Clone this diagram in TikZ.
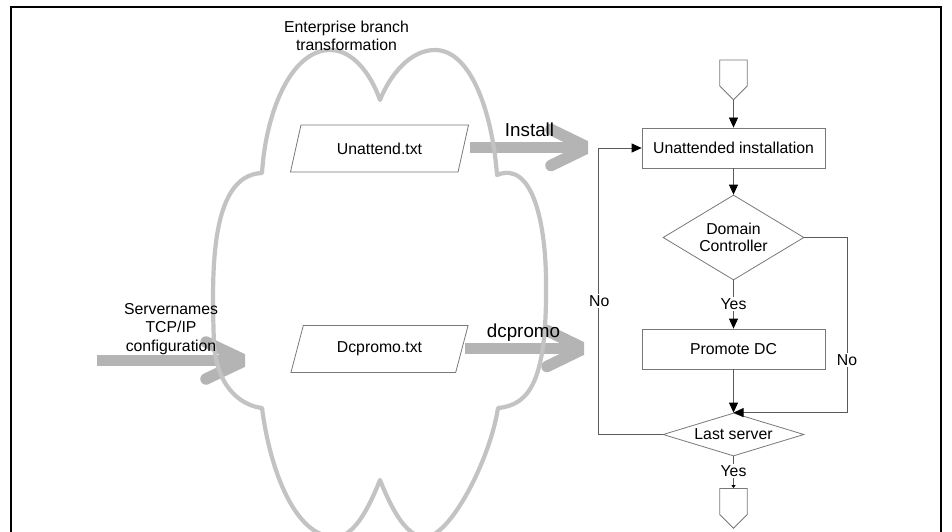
\documentclass[tikz,border=0pt]{standalone}
\usepackage{fontspec}
\setmainfont{Liberation Sans}
\usetikzlibrary{shapes.geometric,shapes.symbols,arrows.meta,calc}

\definecolor{cloudline}{RGB}{195,195,195}
\definecolor{fatgray}{RGB}{180,180,180}
\definecolor{shapeline}{RGB}{120,120,120}
\definecolor{connline}{RGB}{90,90,90}

\begin{document}
\begin{tikzpicture}[x=1pt,y=-1pt,
  every node/.style={inner sep=0pt, text=black, font=\fontsize{15.8}{18.7}\selectfont},
  biglabel/.style={font=\fontsize{18.8}{22}\selectfont},
  datafile/.style={trapezium, trapezium left angle=63.9, trapezium right angle=116.1,
    trapezium stretches=true, draw=shapeline, line width=0.8pt,
    minimum width=179pt, minimum height=47pt},
  procbox/.style={rectangle, draw=shapeline, line width=0.8pt,
    minimum width=183pt, minimum height=40pt},
  decision/.style={diamond, draw=shapeline, line width=0.8pt, minimum width=141pt},
  pagelink/.style={signal, signal to=south, signal from=nowhere, draw=shapeline,
    line width=0.8pt, minimum width=27.5pt, minimum height=26pt},
  flow/.style={draw=connline, line width=0.8pt,
    -{Triangle[length=10pt,width=9pt,color=black]}},
  branch/.style={fill=white, inner sep=1.5pt},
  cloudedge/.style={draw=cloudline, line width=4.2pt, line join=round},
  fatshaft/.style={draw=fatgray, line width=11.5pt},
  fatbarb/.style={draw=fatgray, line width=11.5pt, line cap=round, line join=miter},
]
\useasboundingbox (0,0) rectangle (952,532);

% outer frame
\draw[line width=2pt] (10.5,7.5) rectangle (940.5,560);

% ---- wide grey input arrows ----
\coordinate (installTail) at (470,147.5);
\coordinate (installTip)  at (588,147.5);
\coordinate (promoTail)   at (465,348.5);
\coordinate (promoTip)    at (584,348.5);
\coordinate (inputTail)   at (97,360.5);
\coordinate (inputTip)    at (245,360.5);

\begin{scope}
  \clip (0,0) rectangle (588,532);
  \draw[fatshaft] (installTail) -- (installTip);
  \draw[fatbarb] ($(installTip)+(-37,-18)$) -- (installTip) -- ($(installTip)+(-37,18)$);
\end{scope}
\begin{scope}
  \clip (0,0) rectangle (584,532);
  \draw[fatshaft] (promoTail) -- (promoTip);
  \draw[fatbarb] ($(promoTip)+(-37,-18)$) -- (promoTip) -- ($(promoTip)+(-37,18)$);
\end{scope}
\begin{scope}
  \clip (0,0) rectangle (245,532);
  \draw[fatshaft] (inputTail) -- (inputTip);
  \draw[fatbarb] ($(inputTip)+(-39,-18.5)$) -- (inputTip) -- ($(inputTip)+(-39,18.5)$);
\end{scope}

% ---- cloud outline ----
\draw[cloudedge]
  (262,173) .. controls (266,110) and (292,50) .. (330,50)
  .. controls (352,50) and (370,72) .. (380,100)
  .. controls (390,75) and (410,50) .. (435,50)
  .. controls (470,50) and (492,110) .. (497,175)
  .. controls (533,160) and (546,225) .. (546,283)
  .. controls (547,380) and (530,405) .. (498,408)
  .. controls (490,460) and (450,537) .. (425,537)
  .. controls (405,537) and (390,505) .. (380,480)
  .. controls (370,505) and (355,537) .. (335,537)
  .. controls (295,537) and (270,470) .. (262,408)
  .. controls (245,406) and (218,392) .. (214,345)
  .. controls (212,280) and (208,175) .. cycle;

% ---- texts on the left part ----
\node[anchor=base] (titleA) at (346.5,32.3) {Enterprise branch};
\node[anchor=base] (titleB) at (346.5,51) {transformation};

\node[datafile] (unattend) at (379.5,148.5) {Unattend.txt};
\node[datafile] (dcfile)   at (379.5,349)   {Dcpromo.txt};

\node[anchor=base, biglabel] (installLbl) at (529.5,136) {Install};
\node[anchor=base, biglabel] (promoLbl)   at (523.5,337.5) {dcpromo};

\node[anchor=base] (inA) at (171,314) {Servernames};
\node[anchor=base] (inB) at (171,332.7) {TCP/IP};
\node[anchor=base] (inC) at (171,351.4) {configuration};

% ---- flowchart ----
\node[pagelink] (start) at (733.5,73) {};
\node[procbox] (setup) at (733.5,148) {Unattended installation};
\node[decision, minimum height=85pt, aspect=1.66, align=center,
      font=\fontsize{15.8}{17.4}\selectfont] (isdc) at (733.5,237.5) {Domain\\Controller};
\node[procbox] (promote) at (733.5,349) {Promote DC};
\node[decision, minimum height=43pt, aspect=3.28] (last) at (733.5,434.5) {Last server};
\node[pagelink] (stop) at (733.5,501.5) {};

\draw[flow] (start.south) -- (setup.north);
\draw[flow] (setup.south) -- (isdc.north);
\draw[flow] (isdc.south) -- (promote.north);
\draw[flow] (promote.south) -- (last.north);
\draw[flow] (isdc.east) -- ++(43,0) |- (last.north);
\draw[flow] (last.west) -- ++(-64,0) |- (setup.west);
\draw[draw=connline, line width=0.8pt,
      -{Triangle[length=3pt,width=4pt,color=black]}] (last.south) -- (stop.north);

\node[branch, anchor=base] (yesDc)   at (733.5,309.3) {Yes};
\node[branch, anchor=base] (noDc)    at (847,365)     {No};
\node[branch, anchor=base] (noLast)  at (599.3,306.7) {No};
\node[branch, anchor=base] (yesLast) at (733.5,476)   {Yes};

\end{tikzpicture}
\end{document}
